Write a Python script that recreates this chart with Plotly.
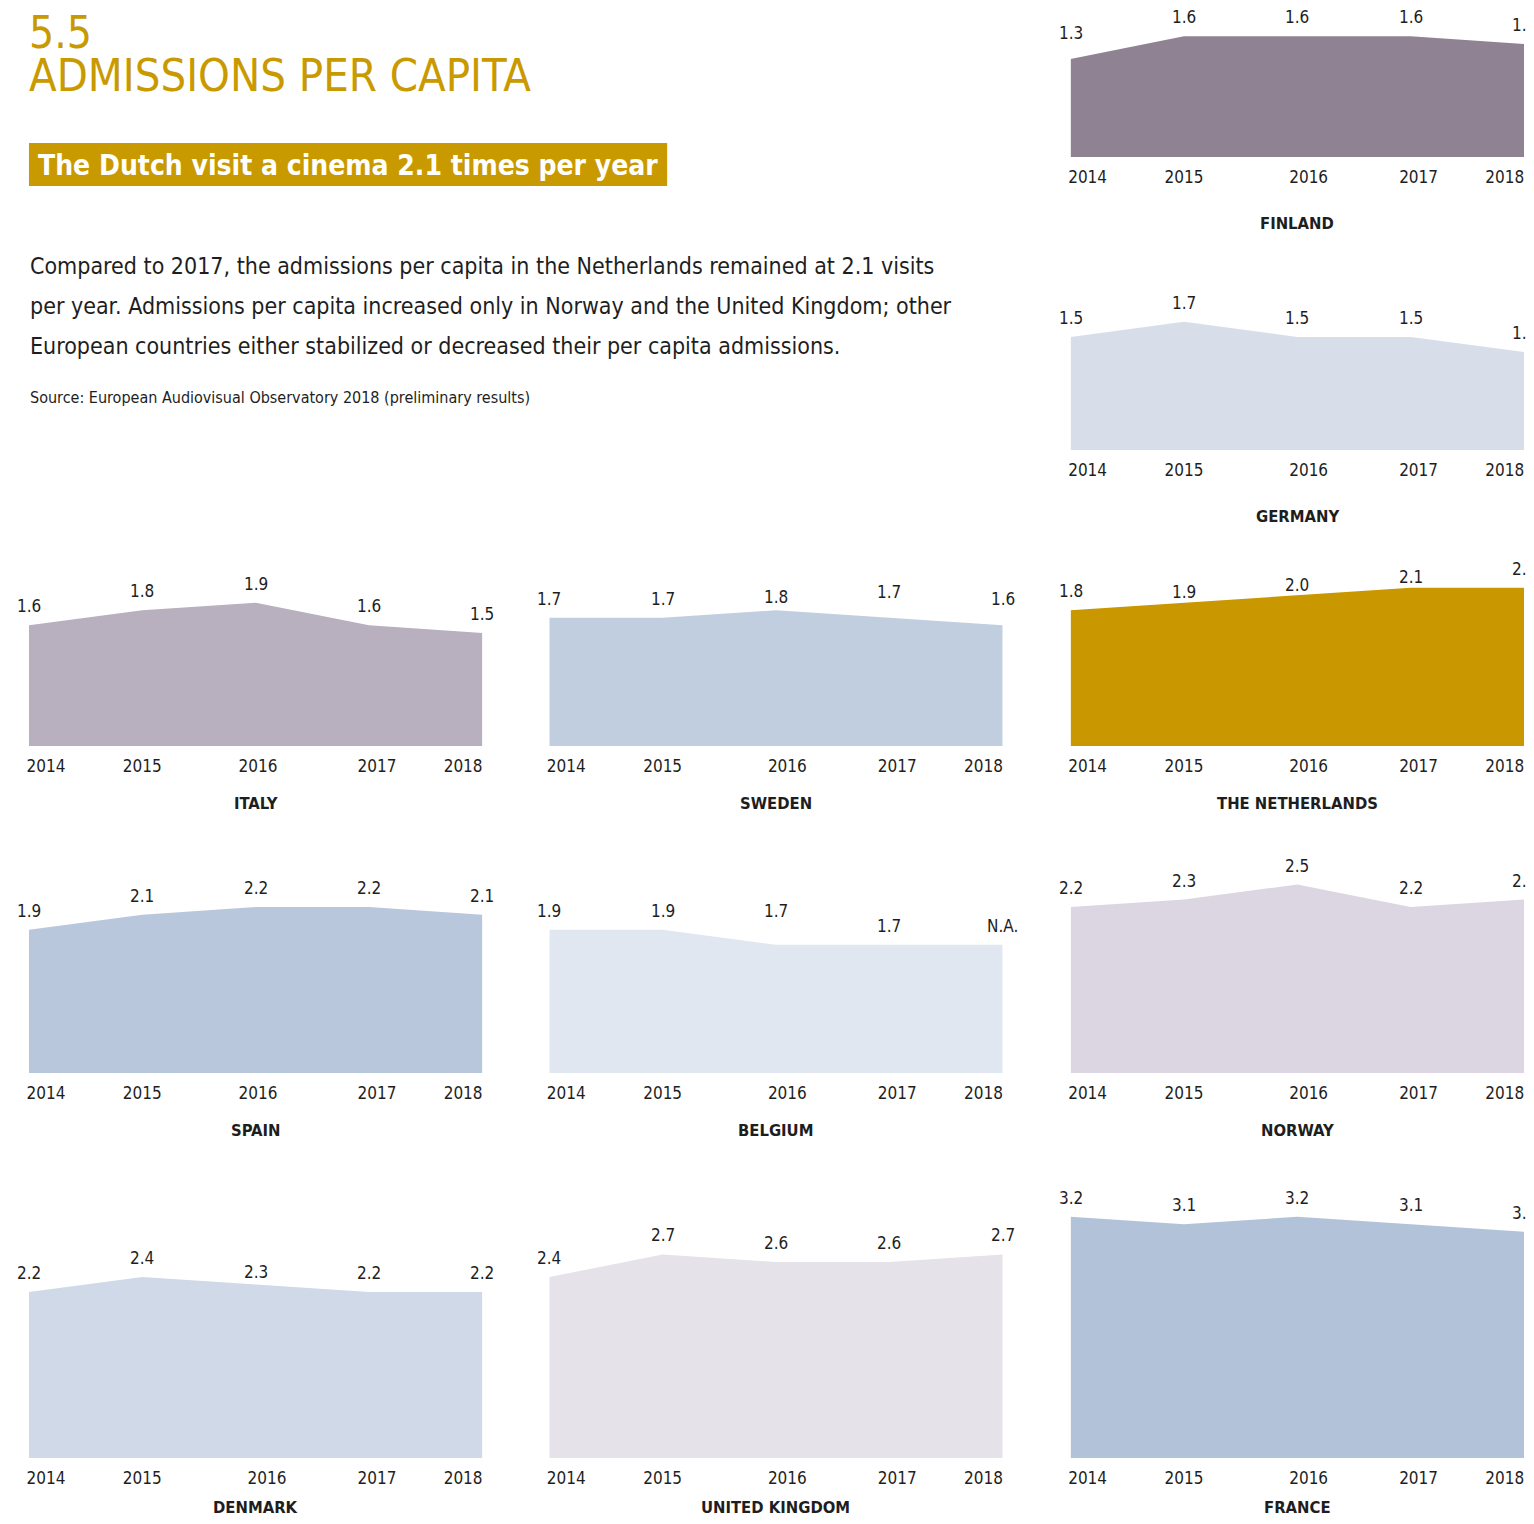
"""Admissions per capita: small-multiple area charts, one panel per country."""

import pandas as pd
import plotly.graph_objects as go

W, H = 1534, 1524
PAGE_PAD = 8  # default body margin of the html page
FIG_W, FIG_H = W - 2 * PAGE_PAD, H - 2 * PAGE_PAD
PX_PER_UNIT = 75.4  # vertical scale shared by every panel

FONT = "DejaVu Sans Condensed, Liberation Sans Narrow, Roboto, sans-serif"
GOLD = "#c99a00"
INK = "#1e1e1e"

YEARS = [2014, 2015, 2016, 2017, 2018]
YEAR_LABELS = ["2014", "2015", "2016", "2017", "2018"]

FINLAND = [1.3, 1.6, 1.6, 1.6, 1.5]
GERMANY = [1.5, 1.7, 1.5, 1.5, 1.3]
ITALY = [1.6, 1.8, 1.9, 1.6, 1.5]
SWEDEN = [1.7, 1.7, 1.8, 1.7, 1.6]
NETHERLANDS = [1.8, 1.9, 2.0, 2.1, 2.1]
SPAIN = [1.9, 2.1, 2.2, 2.2, 2.1]
BELGIUM = [1.9, 1.9, 1.7, 1.7, None]  # 2018 not available
NORWAY = [2.2, 2.3, 2.5, 2.2, 2.3]
DENMARK = [2.2, 2.4, 2.3, 2.2, 2.2]
UNITED_KINGDOM = [2.4, 2.7, 2.6, 2.6, 2.7]
FRANCE = [3.2, 3.1, 3.2, 3.1, 3.0]

COUNTRIES = ["FINLAND", "GERMANY", "ITALY", "SWEDEN", "THE NETHERLANDS", "SPAIN",
             "BELGIUM", "NORWAY", "DENMARK", "UNITED KINGDOM", "FRANCE"]
VALUES = {
    "FINLAND": FINLAND,
    "GERMANY": GERMANY,
    "ITALY": ITALY,
    "SWEDEN": SWEDEN,
    "THE NETHERLANDS": NETHERLANDS,
    "SPAIN": SPAIN,
    "BELGIUM": BELGIUM,
    "NORWAY": NORWAY,
    "DENMARK": DENMARK,
    "UNITED KINGDOM": UNITED_KINGDOM,
    "FRANCE": FRANCE,
}
COLORS = {
    "FINLAND": "#8f8292",
    "GERMANY": "#d7dee9",
    "ITALY": "#b8afbf",
    "SWEDEN": "#c1cedf",
    "THE NETHERLANDS": "#c99700",
    "SPAIN": "#b8c7db",
    "BELGIUM": "#e1e7f0",
    "NORWAY": "#dcd6e2",
    "DENMARK": "#cfd9e7",
    "UNITED KINGDOM": "#e6e2e9",
    "FRANCE": "#b1c2d9",
}

# layout: column pixel spans and baseline pixel row of each panel
COLS = [(27, 481), (548, 1002), (1070, 1524)]
PLACE = {
    "FINLAND": (2, 157), "GERMANY": (2, 450),
    "ITALY": (0, 746), "SWEDEN": (1, 746), "THE NETHERLANDS": (2, 746),
    "SPAIN": (0, 1073), "BELGIUM": (1, 1073), "NORWAY": (2, 1073),
    "DENMARK": (0, 1458), "UNITED KINGDOM": (1, 1458), "FRANCE": (2, 1458),
}
NAME_GAP = {"FINLAND": 66, "GERMANY": 66, "DENMARK": 49, "UNITED KINGDOM": 49, "FRANCE": 49}
TICK_OFFSETS = [0.15, 1.0, 2.1, 3.07, 3.83]
TICK_OFFSETS_ALT = [0.15, 1.0, 2.02, 3.07, 3.83]
LABEL_NUDGE = {
    ("FINLAND", 0): 7, ("BELGIUM", 2): 15,
    ("SWEDEN", 2): -6, ("SWEDEN", 3): 7, ("SWEDEN", 4): 7,
    ("THE NETHERLANDS", 1): -8, ("THE NETHERLANDS", 2): -9, ("THE NETHERLANDS", 3): -8,
    ("DENMARK", 2): -6,
}

INTRO = [
    "Compared to 2017, the admissions per capita in the Netherlands remained at 2.1 visits",
    "per year. Admissions per capita increased only in Norway and the United Kingdom; other",
    "European countries either stabilized or decreased their per capita admissions.",
]


def px(x):
    return (x - PAGE_PAD) / FIG_W


def py(y):
    return 1 - (y - PAGE_PAD) / FIG_H


def text_at(x, y, text, size, color=INK, anchor="left", bold=False):
    return {
        "x": px(x), "y": py(y), "xref": "paper", "yref": "paper",
        "text": f"<b>{text}</b>" if bold else text,
        "showarrow": False, "xanchor": anchor, "yanchor": "middle",
        "font": {"family": FONT, "size": size, "color": color},
    }


fig = go.Figure()
layout = {}
annotations = []

for i, name in enumerate(COUNTRIES):
    n = i + 1
    xa, ya = ("x", "y") if n == 1 else (f"x{n}", f"y{n}")
    col, base = PLACE[name]
    x0, x1 = COLS[col]
    vals = VALUES[name]
    drawn = pd.Series(vals, dtype=float).ffill()
    top = min(drawn.max() + 0.5, (base - PAGE_PAD - 2) / PX_PER_UNIT)
    color = COLORS[name]

    fig.add_trace(go.Scatter(
        x=YEARS, y=drawn, mode="lines", fill="tozeroy",
        fillcolor=color, line={"color": color, "width": 0},
        xaxis=xa, yaxis=ya, hoverinfo="skip", showlegend=False,
    ))

    offsets = TICK_OFFSETS_ALT if name in ("ITALY", "SPAIN") else TICK_OFFSETS
    layout["xaxis" if n == 1 else f"xaxis{n}"] = {
        "domain": [px(x0), px(x1)],
        "anchor": ya,
        "range": [YEARS[0], YEARS[-1]],
        "tickvals": [YEARS[0] + o for o in offsets],
        "ticktext": YEAR_LABELS,
        "showgrid": False, "zeroline": False, "showline": False, "ticks": "",
        "ticklabelstandoff": 8,
        "tickfont": {"family": FONT, "size": 17, "color": INK},
        "fixedrange": True,
    }
    layout["yaxis" if n == 1 else f"yaxis{n}"] = {
        "domain": [py(base), py(base - top * PX_PER_UNIT)],
        "anchor": xa,
        "range": [0, top],
        "visible": False,
        "fixedrange": True,
    }

    for j, (yr, v, d) in enumerate(zip(YEARS, vals, drawn)):
        annotations.append({
            "x": yr, "y": d, "xref": xa, "yref": ya,
            "text": "N.A." if v is None else f"{v:.1f}",
            "showarrow": False, "xanchor": "center", "yanchor": "middle",
            "yshift": 19 + LABEL_NUDGE.get((name, j), 0),
            "font": {"family": FONT, "size": 17, "color": INK},
        })

    annotations.append({
        "x": 0.5, "y": 0, "xref": f"{xa} domain", "yref": f"{ya} domain",
        "text": f"<b>{name}</b>", "showarrow": False,
        "xanchor": "center", "yanchor": "middle",
        "yshift": -NAME_GAP.get(name, 57),
        "font": {"family": FONT, "size": 16.5, "color": INK},
    })

# heading block
annotations.append(text_at(25, 33, "5.5", 44, GOLD))
annotations.append(text_at(25, 75, "ADMISSIONS PER CAPITA", 45, GOLD))
annotations.append(text_at(346, 165, "The Dutch visit a cinema 2.1 times per year", 28, "white",
                           anchor="center", bold=True))
for k, line in enumerate(INTRO):
    annotations.append(text_at(26, 266 + 40 * k, line, 23))
annotations.append(text_at(26, 397, "Source: European Audiovisual Observatory 2018 (preliminary results)", 16))

fig.update_layout(
    width=FIG_W, height=FIG_H,
    margin={"l": 0, "r": 0, "t": 0, "b": 0},
    paper_bgcolor="white", plot_bgcolor="rgba(0,0,0,0)",
    font={"family": FONT, "color": INK},
    showlegend=False,
    annotations=annotations,
    shapes=[{
        "type": "rect", "xref": "paper", "yref": "paper",
        "x0": px(27), "x1": px(666), "y0": py(186), "y1": py(143),
        "fillcolor": GOLD, "line": {"width": 0}, "layer": "below",
    }],
    **layout,
)

fig.write_html("out.html")
